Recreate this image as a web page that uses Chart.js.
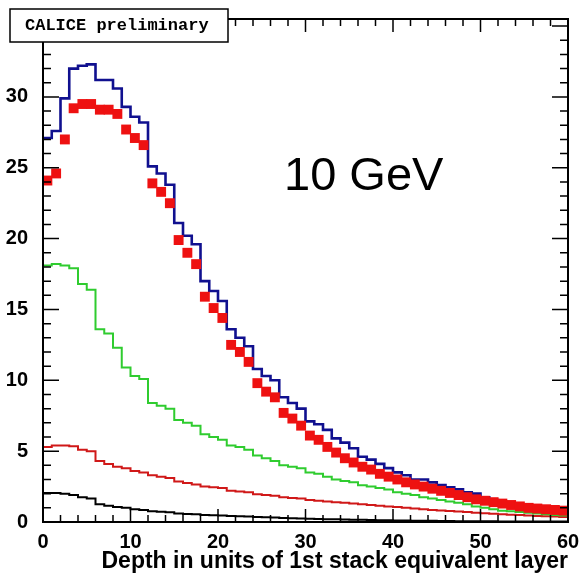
<!DOCTYPE html>
<html>
<head>
<meta charset="utf-8">
<script src="https://cdn.jsdelivr.net/npm/chart.js@4"></script>
<style>
  html, body { margin: 0; padding: 0; background: #fff; }
  #wrap { width: 581px; height: 575px; position: relative; }
</style>
</head>
<body>
<div id="wrap"><canvas id="chart" width="581" height="575"></canvas></div>
<script>
// 60 layers, one bin per layer (bin i covers [i, i+1])
const dataPoints = [
  24.1, 24.6, 27.0, 29.2, 29.5, 29.5, 29.1, 29.1, 28.8, 27.7,
  27.1, 26.6, 23.9, 23.3, 22.5, 19.9, 19.0, 18.2, 15.9, 15.1,
  14.4, 12.5, 12.0, 11.3, 9.8, 9.2, 8.8, 7.7, 7.3, 6.8,
  6.1, 5.8, 5.3, 4.9, 4.5, 4.2, 3.9, 3.7, 3.4, 3.2,
  3.0, 2.8, 2.65, 2.5, 2.35, 2.2, 2.05, 1.9, 1.75, 1.6,
  1.5, 1.4, 1.3, 1.2, 1.1, 1.0, 0.95, 0.9, 0.85, 0.8
];
const simTotal = [
  27.1, 27.6, 29.9, 32.0, 32.2, 32.3, 31.2, 31.2, 30.6, 29.3,
  28.6, 28.2, 25.1, 24.6, 23.8, 21.1, 20.2, 19.6, 17.0, 16.3,
  15.6, 13.6, 13.0, 12.4, 10.8, 10.3, 10.0, 8.8, 8.4, 8.0,
  7.1, 6.9, 6.5, 5.9, 5.6, 5.2, 4.6, 4.4, 4.1, 3.8,
  3.5, 3.3, 3.0, 3.0, 2.8, 2.6, 2.45, 2.3, 2.1, 2.0,
  1.75, 1.55, 1.4, 1.25, 1.15, 1.05, 1.0, 0.95, 0.9, 0.85
];
const simGreen = [
  18.1, 18.2, 18.1, 17.9, 16.8, 16.4, 13.6, 13.3, 12.3, 10.9,
  10.3, 10.1, 8.4, 8.2, 8.0, 7.2, 7.0, 6.8, 6.2, 6.0,
  5.8, 5.4, 5.3, 5.1, 4.7, 4.5, 4.3, 4.0, 3.9, 3.8,
  3.5, 3.4, 3.2, 3.0, 2.9, 2.8, 2.6, 2.5, 2.4, 2.3,
  2.1, 2.0, 1.9, 1.75, 1.65, 1.55, 1.45, 1.35, 1.25, 1.1,
  1.0, 0.9, 0.8, 0.75, 0.7, 0.65, 0.6, 0.55, 0.5, 0.45
];
const simRed = [
  5.3, 5.4, 5.4, 5.35, 5.1, 5.0, 4.3, 4.1, 3.9, 3.8,
  3.6, 3.5, 3.3, 3.2, 3.1, 2.85, 2.75, 2.65, 2.5, 2.45,
  2.4, 2.2, 2.15, 2.1, 1.95, 1.9, 1.85, 1.75, 1.7, 1.65,
  1.55, 1.5, 1.45, 1.4, 1.35, 1.3, 1.25, 1.2, 1.15, 1.1,
  1.05, 1.0, 0.95, 0.9, 0.85, 0.82, 0.78, 0.74, 0.7, 0.66,
  0.62, 0.58, 0.55, 0.52, 0.49, 0.46, 0.43, 0.4, 0.38, 0.36
];
const simBlack = [
  2.05, 2.05, 2.0, 1.9, 1.75, 1.65, 1.25, 1.15, 1.05, 1.0,
  0.9, 0.85, 0.75, 0.72, 0.68, 0.6, 0.57, 0.54, 0.5, 0.48,
  0.46, 0.42, 0.4, 0.38, 0.35, 0.33, 0.31, 0.29, 0.27, 0.25,
  0.23, 0.22, 0.2, 0.19, 0.18, 0.16, 0.15, 0.14, 0.13, 0.12,
  0.11, 0.1, 0.09, 0.08, 0.08, 0.07, 0.07, 0.06, 0.06, 0.05,
  0.05, 0.05, 0.04, 0.04, 0.04, 0.03, 0.03, 0.03, 0.03, 0.03
];
const xTicks = [0, 10, 20, 30, 40, 50, 60];
const yTicks = [0, 5, 10, 15, 20, 25, 30];
const X_MAX = 60;
const Y_MAX = 35.5;

const TICK_FONT = { family: "'Liberation Sans', Arial, sans-serif", size: 20, weight: "bold" };

// histogram as stepped line: left edge of every bin, plus closing right edge
const histo = (vals) => vals.map((v, i) => ({ x: i, y: v })).concat([{ x: vals.length, y: vals[vals.length - 1] }]);
const histSet = (vals, color, width) => ({
  type: "line", data: histo(vals), stepped: "before",
  borderColor: color, borderWidth: width, pointRadius: 0, fill: false
});

const framePlugin = {
  id: "frame",
  afterDraw(chart) {
    const { ctx, chartArea: a, scales } = chart;
    const xs = scales.x, ys = scales.y;
    ctx.save();
    ctx.strokeStyle = "#000";
    ctx.lineWidth = 2;
    ctx.strokeRect(a.left, a.top, a.right - a.left, a.bottom - a.top);

    ctx.lineWidth = 1.5;
    ctx.beginPath();
    for (let v = 0; v <= 35; v++) {
      const y = ys.getPixelForValue(v);
      const len = v % 5 === 0 ? 16 : 8;
      ctx.moveTo(a.left, y); ctx.lineTo(a.left + len, y);
      ctx.moveTo(a.right, y); ctx.lineTo(a.right - len, y);
    }
    for (let v = 0; v <= X_MAX; v += 2) {
      const x = xs.getPixelForValue(v);
      const len = v % 10 === 0 ? 13 : 7;
      ctx.moveTo(x, a.bottom); ctx.lineTo(x, a.bottom - len);
      ctx.moveTo(x, a.top); ctx.lineTo(x, a.top + len);
    }
    ctx.stroke();

    // label box
    ctx.fillStyle = "#fff";
    ctx.fillRect(10, 9, 218, 33);
    ctx.lineWidth = 1.5;
    ctx.strokeRect(10, 9, 218, 33);
    ctx.fillStyle = "#000";
    ctx.font = "bold 17px 'Liberation Mono', 'Courier New', monospace";
    ctx.textBaseline = "middle";
    ctx.textAlign = "left";
    ctx.fillText("CALICE preliminary", 25, 26);

    ctx.font = "47px 'Liberation Sans', Arial, sans-serif";
    ctx.textBaseline = "alphabetic";
    ctx.fillText("10 GeV", 284, 190);
    ctx.restore();
  }
};

new Chart(document.getElementById("chart"), {
  data: {
    datasets: [
      {
        type: "scatter",
        data: dataPoints.map((v, i) => ({ x: i + 0.5, y: v })),
        pointStyle: "rect", pointRadius: 7, pointBorderWidth: 0,
        backgroundColor: "#ee1111", borderColor: "#ee1111", showLine: false
      },
      histSet(simTotal, "#10108f", 2.6),
      histSet(simGreen, "#2fcc2f", 2),
      histSet(simRed, "#d01818", 2),
      histSet(simBlack, "#000000", 2)
    ]
  },
  options: {
    responsive: false,
    animation: false,
    devicePixelRatio: 1,
    layout: { padding: { left: 0, right: 13, top: 17, bottom: 0 } },
    plugins: { legend: { display: false }, tooltip: { enabled: false } },
    scales: {
      x: {
        type: "linear", min: 0, max: X_MAX,
        grid: { display: false }, border: { display: false },
        afterBuildTicks: (s) => { s.ticks = xTicks.map(v => ({ value: v })); },
        afterFit: (s) => { s.height = 53; },
        ticks: { color: "#000", font: TICK_FONT, padding: 0, maxRotation: 0, autoSkip: false },
        title: {
          display: true, text: "Depth in units of 1st stack equivalent layer",
          align: "end", color: "#000",
          font: { family: "'Liberation Sans', Arial, sans-serif", size: 23, weight: "bold" },
          padding: { top: 0, bottom: 0 }
        }
      },
      y: {
        type: "linear", min: 0, max: Y_MAX,
        grid: { display: false }, border: { display: false },
        afterBuildTicks: (s) => { s.ticks = yTicks.map(v => ({ value: v })); },
        afterFit: (s) => { s.width = 43; },
        ticks: { color: "#000", font: TICK_FONT, padding: 7, autoSkip: false }
      }
    }
  },
  plugins: [framePlugin]
});
</script>
</body>
</html>
